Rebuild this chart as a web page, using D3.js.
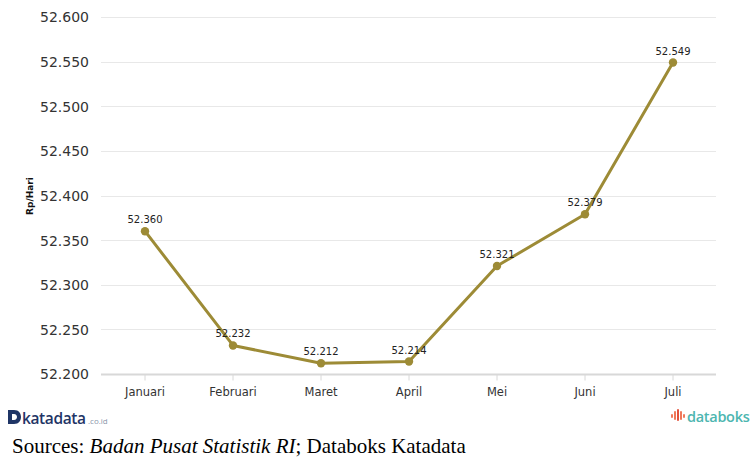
<!DOCTYPE html>
<html>
<head>
<meta charset="utf-8">
<script src="https://cdn.jsdelivr.net/npm/d3@7"></script>
<style>
  html, body { margin: 0; padding: 0; background: #fff; }
  svg { display: block; }
</style>
</head>
<body>
<svg id="chart" width="752" height="459"></svg>
<script>
// Average daily wage by month (Rp/Hari)
const months = ["Januari", "Februari", "Maret", "April", "Mei", "Juni", "Juli"];
const values = [52.360, 52.232, 52.212, 52.214, 52.321, 52.379, 52.549];
const yTicks = [52.200, 52.250, 52.300, 52.350, 52.400, 52.450, 52.500, 52.550, 52.600];
const yTitle = "Rp/Hari";

const svg = d3.select("#chart");
const plot = { left: 101, right: 717, top: 17, bottom: 374 };

const x = d3.scaleBand().domain(months).range([plot.left, plot.right]);
const y = d3.scaleLinear().domain([52.2, 52.6]).range([plot.bottom, plot.top]);
const fmt = v => d3.format(".3f")(v);

// horizontal grid
svg.append("g")
  .selectAll("line")
  .data(yTicks.slice(1))
  .join("line")
  .attr("x1", plot.left).attr("x2", plot.right - 1)
  .attr("y1", d => Math.round(y(d)) + 0.5).attr("y2", d => Math.round(y(d)) + 0.5)
  .attr("stroke", "#e8e8e8").attr("stroke-width", 1);

// y axis labels
const yAxis = d3.axisLeft(y).tickValues(yTicks).tickFormat(fmt).tickSize(0).tickPadding(0);
const yg = svg.append("g").attr("transform", `translate(${plot.left - 12},0)`).call(yAxis);
yg.select(".domain").remove();
yg.selectAll("text")
  .attr("font-family", "'DejaVu Sans', Verdana, sans-serif")
  .attr("font-size", 14)
  .attr("fill", "#333")
  .attr("dy", "0.35em");

// x axis
const xAxis = d3.axisBottom(x).tickSize(6).tickPadding(7);
const xg = svg.append("g").attr("transform", `translate(0,${plot.bottom + 0.5})`).call(xAxis);
xg.select(".domain").attr("stroke", "#d8d8d8").attr("stroke-width", 2)
  .attr("d", `M${plot.left},0H${plot.right - 1}`);
xg.selectAll(".tick line").attr("stroke", "#d8d8d8");
xg.selectAll("text")
  .attr("font-family", "'DejaVu Sans', Verdana, sans-serif")
  .attr("font-size", 11.5)
  .attr("fill", "#333");

// y axis title
svg.append("text")
  .attr("transform", "translate(33,196) rotate(-90)")
  .attr("text-anchor", "middle")
  .attr("font-family", "'DejaVu Sans', Verdana, sans-serif")
  .attr("font-size", 9)
  .attr("font-weight", "bold")
  .attr("fill", "#111")
  .text(yTitle);

// line series
const data = months.map((m, i) => ({ m, v: values[i] }));
const cx = d => x(d.m) + x.bandwidth() / 2;
const lineColor = "#9d8b36";

svg.append("path")
  .datum(data)
  .attr("fill", "none")
  .attr("stroke", lineColor)
  .attr("stroke-width", 3)
  .attr("stroke-linejoin", "round")
  .attr("d", d3.line().x(cx).y(d => y(d.v)));

svg.append("g").selectAll("circle")
  .data(data).join("circle")
  .attr("cx", cx).attr("cy", d => y(d.v)).attr("r", 4.2)
  .attr("fill", lineColor);

// value labels
svg.append("g").selectAll("text")
  .data(data).join("text")
  .attr("x", cx).attr("y", d => y(d.v) - 8)
  .attr("text-anchor", "middle")
  .attr("font-family", "'DejaVu Sans', Verdana, sans-serif")
  .attr("font-size", 10)
  .attr("fill", "#222")
  .text(d => fmt(d.v));

// katadata brand mark
const kd = svg.append("g").attr("transform", "translate(8,410)");
kd.append("path")
  .attr("d", "M0,0 H6 C11,0 13,3.5 13,7 C13,10.5 11,14 6,14 H0 Z M4,4 V10 H6 C8,10 9,8.5 9,7 C9,5.5 8,4 6,4 Z")
  .attr("fill", "#1f3566").attr("fill-rule", "evenodd");
kd.append("text")
  .attr("x", 14).attr("y", 13.5)
  .attr("font-family", "'Open Sans', 'DejaVu Sans', sans-serif")
  .attr("font-size", 15.5).attr("font-weight", 600)
  .attr("letter-spacing", "-0.4")
  .attr("fill", "#1f3566")
  .text("katadata");
kd.append("text")
  .attr("x", 80).attr("y", 13.5)
  .attr("font-family", "'Open Sans', 'DejaVu Sans', sans-serif")
  .attr("font-size", 8)
  .attr("fill", "#8a95aa")
  .text(".co.id");

// databoks brand mark
const db = svg.append("g").attr("transform", "translate(671,409)");
const bars = [[0, 5, 4], [3, 2, 9], [6, 0, 12], [9, 2, 9], [12, 5, 4]];
db.selectAll("rect").data(bars).join("rect")
  .attr("x", d => d[0]).attr("y", d => d[1])
  .attr("width", 2).attr("height", d => d[2])
  .attr("rx", 1)
  .attr("fill", (d, i) => (i === 2 ? "#e2533c" : "#f0795a"));
db.append("text")
  .attr("x", 16).attr("y", 13)
  .attr("font-family", "'Open Sans', 'DejaVu Sans', sans-serif")
  .attr("font-size", 14.5).attr("font-weight", 600)
  .attr("letter-spacing", "-0.3")
  .attr("fill", "#4db6b0")
  .text("databoks");

// source line
const src = svg.append("text")
  .attr("x", 12).attr("y", 453)
  .attr("font-family", "'Liberation Serif', 'Times New Roman', serif")
  .attr("font-size", 21)
  .attr("fill", "#000");
src.append("tspan").text("Sources: ");
src.append("tspan").attr("font-style", "italic").text("Badan Pusat Statistik RI");
src.append("tspan").text("; Databoks Katadata");
</script>
</body>
</html>
